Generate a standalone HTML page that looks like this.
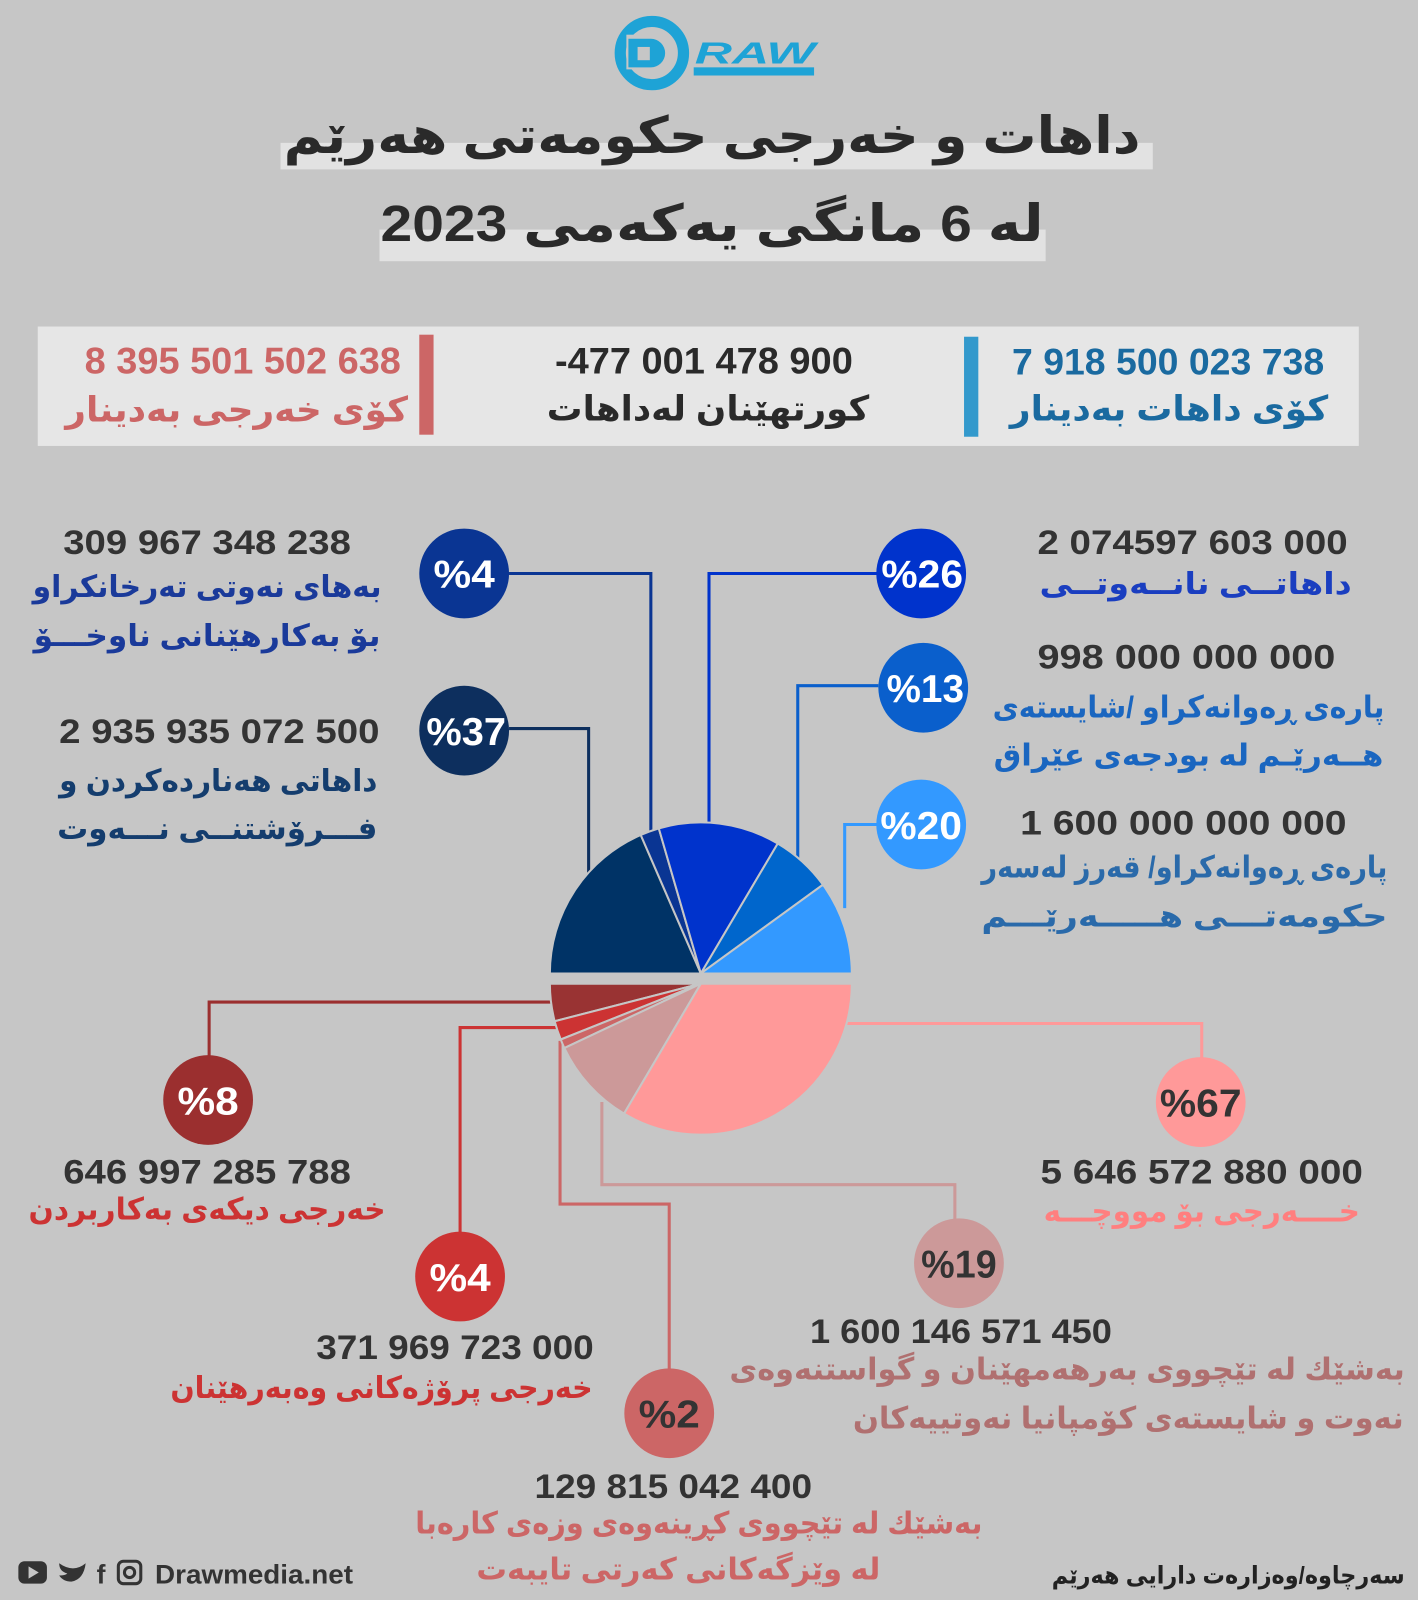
<!DOCTYPE html>
<html><head><meta charset="utf-8"><style>
html,body{margin:0;padding:0;background:#c6c6c6;}
svg{display:block}
text{font-family:"Liberation Sans","DejaVu Sans",sans-serif;font-weight:bold}
.n{fill:#333;font-size:34px}
</style></head><body>
<svg width="1418" height="1600" viewBox="0 0 1390 1568" preserveAspectRatio="none" xmlns="http://www.w3.org/2000/svg">
<rect width="1390" height="1568" fill="#c6c6c6"/>
<!-- logo -->
<circle cx="639" cy="52" r="31" fill="none" stroke="#1ea3d6" stroke-width="11"/>
<rect x="614" y="34" width="40" height="34" fill="#c6c6c6"/>
<path d="M616,38 h22 a14,14 0 0 1 0,28 h-22 z" fill="#1ea3d6"/>
<rect x="625" y="46" width="12" height="13" fill="#c6c6c6"/>
<text x="740" y="62" font-size="30" fill="#1ea3d6" text-anchor="middle" font-style="italic" textLength="118" lengthAdjust="spacingAndGlyphs">RAW</text>
<rect x="680" y="66" width="118" height="8" fill="#1ea3d6"/>
<!-- title -->
<rect x="275" y="140" width="855" height="26" fill="#e2e2e2"/>
<text x="698" y="150" font-size="50" fill="#2a2a2a" text-anchor="middle" direction="rtl" textLength="840" lengthAdjust="spacingAndGlyphs">داهات و خەرجی حکومەتی هەرێم</text>
<rect x="372" y="225" width="653" height="31" fill="#e2e2e2"/>
<text x="698" y="236" font-size="50" fill="#2a2a2a" text-anchor="middle" direction="rtl" textLength="650" lengthAdjust="spacingAndGlyphs">لە 6 مانگی یەکەمی 2023</text>
<!-- summary -->
<rect x="37" y="320" width="1295" height="117" fill="#e6e6e6"/>
<rect x="945" y="330" width="14" height="98" fill="#3399cc"/>
<rect x="411" y="328" width="14" height="98" fill="#cc6666"/>
<text x="1145" y="367" font-size="36" fill="#1a6aa0" text-anchor="middle" textLength="306" lengthAdjust="spacingAndGlyphs">7 918 500 023 738</text>
<text x="1146" y="412" font-size="34" fill="#1a6aa0" text-anchor="middle" direction="rtl" textLength="312" lengthAdjust="spacingAndGlyphs">کۆی داهات بەدینار</text>
<text x="690" y="366" font-size="36" fill="#2a2a2a" text-anchor="middle" textLength="292" lengthAdjust="spacingAndGlyphs">-477 001 478 900</text>
<text x="694" y="412" font-size="34" fill="#2a2a2a" text-anchor="middle" direction="rtl" textLength="316" lengthAdjust="spacingAndGlyphs">کورتهێنان لەداهات</text>
<text x="238" y="366" font-size="36" fill="#cc6666" text-anchor="middle" textLength="310" lengthAdjust="spacingAndGlyphs">8 395 501 502 638</text>
<text x="232" y="413" font-size="34" fill="#cc6666" text-anchor="middle" direction="rtl" textLength="336" lengthAdjust="spacingAndGlyphs">کۆی خەرجی بەدینار</text>
<!-- connector lines -->
<g fill="none" stroke-width="3">
<polyline points="499,562 638,562 638,818" stroke="#0a3593"/>
<polyline points="860,562 695,562 695,808" stroke="#0033cc"/>
<polyline points="861,672 782,672 782,845" stroke="#0a5fcc"/>
<polyline points="860,808 828,808 828,890" stroke="#3399ff"/>
<polyline points="499,714 577,714 577,855" stroke="#0d2f5e"/>
<polyline points="545,982 205,982 205,1036" stroke="#9b2f2f"/>
<polyline points="548,1007 451,1007 451,1210" stroke="#cc3333"/>
<polyline points="549,1020 549,1180 656,1180 656,1343" stroke="#cc6666"/>
<polyline points="590,1080 590,1161 936,1161 936,1196" stroke="#cc9999"/>
<polyline points="830,1003 1178,1003 1178,1038" stroke="#ff9999"/>
</g>
<!-- pie -->
<g stroke="#c6c6c6" stroke-width="2" stroke-linejoin="round">
<path d="M687,954 L539,954 A148,148 0 0 1 628.1,818.3 Z" fill="#003366"/>
<path d="M687,954 L628.1,818.3 A148,148 0 0 1 645.8,811.8 Z" fill="#0a3593"/>
<path d="M687,954 L645.8,811.8 A148,148 0 0 1 762.4,826.6 Z" fill="#0033cc"/>
<path d="M687,954 L762.4,826.6 A148,148 0 0 1 806.7,867.0 Z" fill="#0066cc"/>
<path d="M687,954 L806.7,867.0 A148,148 0 0 1 835,954 Z" fill="#3399ff"/>
<path d="M687,964 L539,964 A148,148 0 0 0 543.7,1000.8 Z" fill="#993333"/>
<path d="M687,964 L543.7,1000.8 A148,148 0 0 0 549.7,1018.7 Z" fill="#cc3333"/>
<path d="M687,964 L549.7,1018.7 A148,148 0 0 0 553.2,1027.1 Z" fill="#cc6666"/>
<path d="M687,964 L553.2,1027.1 A148,148 0 0 0 611.7,1091.4 Z" fill="#cc9999"/>
<path d="M687,964 L611.7,1091.4 A148,148 0 0 0 835,964 Z" fill="#ff9999"/>
</g>
<!-- circles -->
<circle cx="455" cy="562" r="44" fill="#0a3593"/>
<circle cx="455" cy="716" r="44" fill="#0d2f5e"/>
<circle cx="903" cy="562" r="44" fill="#0033cc"/>
<circle cx="905" cy="674" r="44" fill="#0a5fcc"/>
<circle cx="903" cy="808" r="44" fill="#3399ff"/>
<circle cx="204" cy="1078" r="44" fill="#9b2f2f"/>
<circle cx="451" cy="1251" r="44" fill="#cc3333"/>
<circle cx="656" cy="1385" r="44" fill="#cc6666"/>
<circle cx="940" cy="1238" r="44" fill="#cc9999"/>
<circle cx="1177" cy="1080" r="44" fill="#ff9999"/>
<g font-size="38" text-anchor="middle">
<text x="455" y="576" fill="#fff" textLength="60" lengthAdjust="spacingAndGlyphs">%4</text>
<text x="457" y="730" fill="#fff" textLength="78" lengthAdjust="spacingAndGlyphs">%37</text>
<text x="904" y="576" fill="#fff" textLength="80" lengthAdjust="spacingAndGlyphs">%26</text>
<text x="907" y="688" fill="#fff" textLength="76" lengthAdjust="spacingAndGlyphs">%13</text>
<text x="903" y="822" fill="#fff" textLength="80" lengthAdjust="spacingAndGlyphs">%20</text>
<text x="204" y="1092" fill="#fff" textLength="60" lengthAdjust="spacingAndGlyphs">%8</text>
<text x="451" y="1265" fill="#fff" textLength="60" lengthAdjust="spacingAndGlyphs">%4</text>
<text x="656" y="1399" fill="#333" textLength="60" lengthAdjust="spacingAndGlyphs">%2</text>
<text x="940" y="1252" fill="#333" textLength="74" lengthAdjust="spacingAndGlyphs">%19</text>
<text x="1177" y="1094" fill="#333" textLength="80" lengthAdjust="spacingAndGlyphs">%67</text>
</g>
<!-- labels -->
<g text-anchor="middle">
<text class="n" x="203" y="543" textLength="282" lengthAdjust="spacingAndGlyphs">309 967 348 238</text>
<text x="203" y="585" font-size="30" fill="#1a3a9a" direction="rtl" textLength="342" lengthAdjust="spacingAndGlyphs">بەهای نەوتی تەرخانکراو</text>
<text x="203" y="633" font-size="30" fill="#1a3a9a" direction="rtl" textLength="340" lengthAdjust="spacingAndGlyphs">بۆ بەکارهێنانی ناوخـــۆ</text>
<text class="n" x="215" y="728" textLength="314" lengthAdjust="spacingAndGlyphs">2 935 935 072 500</text>
<text x="214" y="775" font-size="30" fill="#143d6e" direction="rtl" textLength="312" lengthAdjust="spacingAndGlyphs">داهاتی هەناردەکردن و</text>
<text x="213" y="822" font-size="30" fill="#143d6e" direction="rtl" textLength="314" lengthAdjust="spacingAndGlyphs">فـــرۆشتنــی نـــەوت</text>
<text class="n" x="1169" y="543" textLength="304" lengthAdjust="spacingAndGlyphs">2 074597 603 000</text>
<text x="1172" y="582" font-size="30" fill="#1a3ec0" direction="rtl" textLength="306" lengthAdjust="spacingAndGlyphs">داهاتــی نانــەوتــی</text>
<text class="n" x="1163" y="655" textLength="292" lengthAdjust="spacingAndGlyphs">998 000 000 000</text>
<text x="1165" y="703" font-size="30" fill="#1a66c0" direction="rtl" textLength="384" lengthAdjust="spacingAndGlyphs">پارەی ڕەوانەکراو /شایستەی</text>
<text x="1165" y="750" font-size="30" fill="#1a66c0" direction="rtl" textLength="382" lengthAdjust="spacingAndGlyphs">هــەرێـم لە بودجەی عێراق</text>
<text class="n" x="1160" y="818" textLength="320" lengthAdjust="spacingAndGlyphs">1 600 000 000 000</text>
<text x="1161" y="860" font-size="30" fill="#2a6aaa" direction="rtl" textLength="398" lengthAdjust="spacingAndGlyphs">پارەی ڕەوانەکراو/ قەرز لەسەر</text>
<text x="1161" y="908" font-size="30" fill="#2a6aaa" direction="rtl" textLength="398" lengthAdjust="spacingAndGlyphs">حکومەتـــی هـــــەرێـــم</text>
<text class="n" x="203" y="1160" textLength="282" lengthAdjust="spacingAndGlyphs">646 997 285 788</text>
<text x="203" y="1195" font-size="30" fill="#cc3333" direction="rtl" textLength="350" lengthAdjust="spacingAndGlyphs">خەرجی دیکەی بەکاربردن</text>
<text class="n" x="446" y="1332" textLength="272" lengthAdjust="spacingAndGlyphs">371 969 723 000</text>
<text x="374" y="1370" font-size="30" fill="#cc3333" direction="rtl" textLength="414" lengthAdjust="spacingAndGlyphs">خەرجی پرۆژەکانی وەبەرهێنان</text>
<text class="n" x="660" y="1468" textLength="272" lengthAdjust="spacingAndGlyphs">129 815 042 400</text>
<text x="685" y="1503" font-size="30" fill="#cc6666" direction="rtl" textLength="556" lengthAdjust="spacingAndGlyphs">بەشێك لە تێچووی کڕینەوەی وزەی کارەبا</text>
<text x="665" y="1548" font-size="30" fill="#cc6666" direction="rtl" textLength="396" lengthAdjust="spacingAndGlyphs">لە وێزگەکانی کەرتی تایبەت</text>
<text class="n" x="942" y="1316" textLength="296" lengthAdjust="spacingAndGlyphs">1 600 146 571 450</text>
<text x="1046" y="1352" font-size="30" fill="#b07070" direction="rtl" textLength="662" lengthAdjust="spacingAndGlyphs">بەشێك لە تێچووی بەرهەمهێنان و گواستنەوەی</text>
<text x="1106" y="1400" font-size="30" fill="#b07070" direction="rtl" textLength="540" lengthAdjust="spacingAndGlyphs">نەوت و شایستەی کۆمپانیا نەوتییەکان</text>
<text class="n" x="1178" y="1160" textLength="316" lengthAdjust="spacingAndGlyphs">5 646 572 880 000</text>
<text x="1178" y="1197" font-size="30" fill="#ff7f7f" direction="rtl" textLength="310" lengthAdjust="spacingAndGlyphs">خــــەرجی بۆ مووچـــە</text>
</g>
<!-- footer -->
<rect x="18" y="1530" width="28" height="22" rx="6" fill="#333"/>
<path d="M28,1535 l10,6 -10,6z" fill="#c6c6c6"/>
<path d="M58,1532 q14,10 26,0 q-2,16 -14,18 q-8,0 -12,-6 q6,0 8,-2 q-8,-2 -8,-10z" fill="#333"/>
<text x="99" y="1552" font-size="26" fill="#333" text-anchor="middle">f</text>
<rect x="116" y="1530" width="22" height="22" rx="5" fill="none" stroke="#333" stroke-width="3"/>
<circle cx="127" cy="1541" r="5" fill="none" stroke="#333" stroke-width="3"/>
<text x="152" y="1552" font-size="26" fill="#333" textLength="194" lengthAdjust="spacingAndGlyphs">Drawmedia.net</text>
<text x="1204" y="1552" font-size="24" fill="#222" text-anchor="middle" direction="rtl" textLength="346" lengthAdjust="spacingAndGlyphs">سەرچاوە/وەزارەت دارایی هەرێم</text>
</svg>
</body></html>
